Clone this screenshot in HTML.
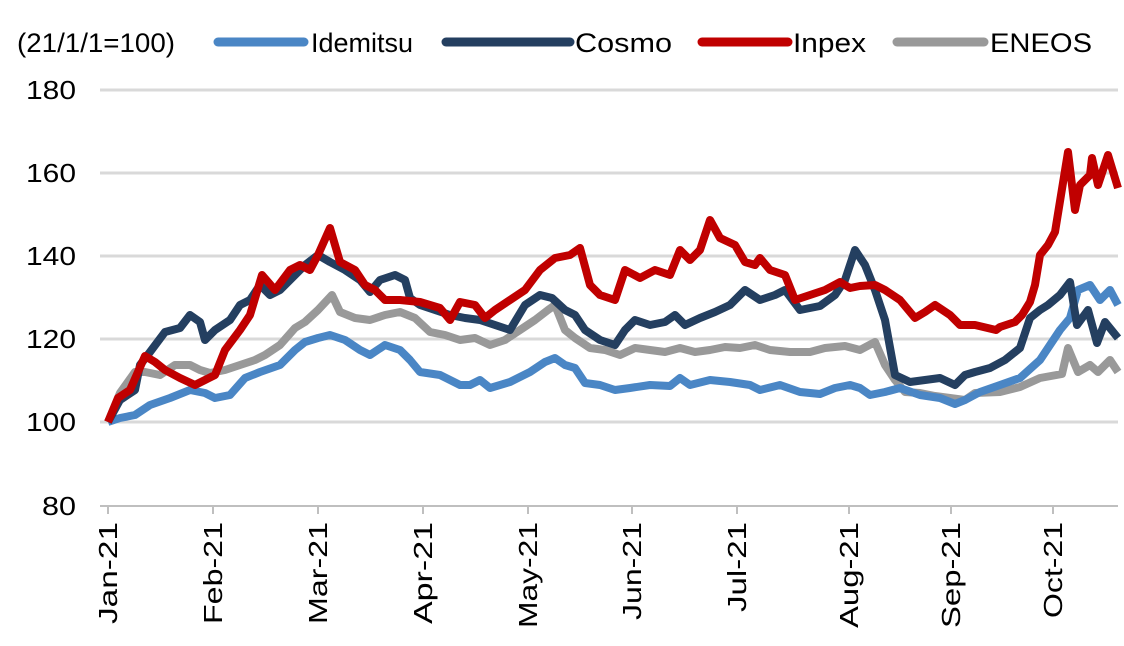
<!DOCTYPE html>
<html><head><meta charset="utf-8"><style>
html,body{margin:0;padding:0;background:#fff}
svg{display:block}
text{font-family:"Liberation Sans",Arial,sans-serif;fill:#000}
</style></head><body>
<svg width="1124" height="646" viewBox="0 0 1124 646">
<g stroke="#d9d9d9" stroke-width="3">
<line x1="100" y1="90" x2="1118" y2="90"/>
<line x1="100" y1="173" x2="1118" y2="173"/>
<line x1="100" y1="256" x2="1118" y2="256"/>
<line x1="100" y1="339" x2="1118" y2="339"/>
<line x1="100" y1="422" x2="1118" y2="422"/>
</g>
<line x1="100" y1="506" x2="1118" y2="506" stroke="#bfbfbf" stroke-width="2"/>
<g stroke="#bfbfbf" stroke-width="2">
<line x1="108" y1="506" x2="108" y2="514"/><line x1="213" y1="506" x2="213" y2="514"/><line x1="318" y1="506" x2="318" y2="514"/><line x1="423" y1="506" x2="423" y2="514"/><line x1="528" y1="506" x2="528" y2="514"/><line x1="632" y1="506" x2="632" y2="514"/><line x1="737" y1="506" x2="737" y2="514"/><line x1="849" y1="506" x2="849" y2="514"/><line x1="951" y1="506" x2="951" y2="514"/><line x1="1053" y1="506" x2="1053" y2="514"/>
</g>
<g font-size="26" text-anchor="end">
<text x="76" y="99" textLength="50" lengthAdjust="spacingAndGlyphs">180</text>
<text x="76" y="182" textLength="50" lengthAdjust="spacingAndGlyphs">160</text>
<text x="76" y="265" textLength="50" lengthAdjust="spacingAndGlyphs">140</text>
<text x="76" y="348" textLength="50" lengthAdjust="spacingAndGlyphs">120</text>
<text x="76" y="431" textLength="50" lengthAdjust="spacingAndGlyphs">100</text>
<text x="76" y="515" textLength="34" lengthAdjust="spacingAndGlyphs">80</text>
</g>
<g font-size="26" text-anchor="end">
<text transform="translate(117,522) rotate(-90)" textLength="102" lengthAdjust="spacingAndGlyphs">Jan-21</text>
<text transform="translate(222,522) rotate(-90)" textLength="102" lengthAdjust="spacingAndGlyphs">Feb-21</text>
<text transform="translate(327,522) rotate(-90)" textLength="102" lengthAdjust="spacingAndGlyphs">Mar-21</text>
<text transform="translate(432,522) rotate(-90)" textLength="102" lengthAdjust="spacingAndGlyphs">Apr-21</text>
<text transform="translate(537,522) rotate(-90)" textLength="106" lengthAdjust="spacingAndGlyphs">May-21</text>
<text transform="translate(641,522) rotate(-90)" textLength="98" lengthAdjust="spacingAndGlyphs">Jun-21</text>
<text transform="translate(746,522) rotate(-90)" textLength="90" lengthAdjust="spacingAndGlyphs">Jul-21</text>
<text transform="translate(858,522) rotate(-90)" textLength="106" lengthAdjust="spacingAndGlyphs">Aug-21</text>
<text transform="translate(960,522) rotate(-90)" textLength="106" lengthAdjust="spacingAndGlyphs">Sep-21</text>
<text transform="translate(1062,522) rotate(-90)" textLength="96" lengthAdjust="spacingAndGlyphs">Oct-21</text>
</g>
<g font-size="27">
<text x="17" y="52" textLength="158" lengthAdjust="spacingAndGlyphs">(21/1/1=100)</text>
<text x="311" y="52" textLength="102" lengthAdjust="spacingAndGlyphs">Idemitsu</text>
<text x="575" y="52" textLength="97" lengthAdjust="spacingAndGlyphs">Cosmo</text>
<text x="793" y="52" textLength="73" lengthAdjust="spacingAndGlyphs">Inpex</text>
<text x="990" y="52" textLength="102" lengthAdjust="spacingAndGlyphs">ENEOS</text>
</g>
<g stroke-width="9" stroke-linecap="round" fill="none">
<line x1="218" y1="42" x2="304" y2="42" stroke="#4a86c5"/>
<line x1="446" y1="42" x2="570" y2="42" stroke="#243f60"/>
<line x1="702" y1="42" x2="788" y2="42" stroke="#c00000"/>
<line x1="897" y1="42" x2="984" y2="42" stroke="#999999"/>
</g>
<g stroke-width="8" stroke-linejoin="round" fill="none">
<polyline stroke="#999999" points="108,422 120,393 135,372 145,372 160,375 175,365 190,365 200,370 210,373 225,370 240,365 255,360 265,355 280,345 295,328 305,322 318,310 332,295 340,312 355,318 370,320 385,315 400,312 415,318 430,332 445,335 460,340 475,338 490,345 505,340 520,330 535,320 548,310 555,305 565,330 575,338 590,348 605,350 620,355 635,348 650,350 665,352 680,348 695,352 710,350 725,347 740,348 755,345 770,350 790,352 810,352 825,348 845,346 860,350 875,342 885,365 895,380 905,392 920,393 935,396 950,398 965,400 975,393 1000,392 1020,387 1040,378 1062,374 1068,348 1078,372 1090,365 1098,372 1110,360 1118,372"/>
<polyline stroke="#4a86c5" points="108,422 120,418 135,415 150,405 170,398 190,390 205,393 215,398 230,395 245,378 260,372 280,365 295,350 305,342 318,338 330,335 345,340 360,350 370,355 385,345 400,350 410,360 420,372 440,375 460,385 470,385 480,380 490,388 510,382 530,372 545,362 555,358 565,365 575,368 585,383 600,385 615,390 630,388 650,385 670,386 680,378 690,385 710,380 730,382 750,385 760,390 780,385 800,392 820,394 835,388 850,385 860,388 870,395 885,392 900,388 920,395 940,398 955,404 965,400 980,392 1000,385 1020,378 1040,360 1050,345 1060,330 1070,318 1078,290 1090,285 1100,300 1110,290 1118,305"/>
<polyline stroke="#243f60" points="108,422 120,400 135,390 140,365 150,352 165,332 180,328 190,315 200,322 205,340 215,330 230,320 240,305 250,300 260,285 270,295 280,290 295,275 305,265 318,255 330,262 345,270 360,280 370,292 380,280 395,275 405,280 410,298 420,305 435,310 450,315 465,318 480,320 495,325 510,330 525,305 540,295 552,298 565,310 575,315 585,330 600,340 615,345 625,330 635,320 650,325 665,322 675,315 685,325 700,318 715,312 730,305 745,290 760,300 775,295 785,290 800,310 820,306 835,295 845,280 855,250 865,265 875,290 885,320 895,375 910,382 925,380 940,378 955,385 965,375 975,372 990,368 1005,360 1020,348 1030,318 1040,310 1048,305 1060,295 1070,282 1077,325 1088,310 1097,343 1105,322 1118,338"/>
<polyline stroke="#c00000" points="108,422 118,398 130,390 145,356 155,362 165,370 180,378 195,385 205,380 215,375 225,350 240,330 250,315 262,275 275,290 290,270 300,265 310,270 318,255 330,228 340,262 355,270 365,285 375,290 385,300 400,300 420,302 440,308 450,320 460,302 475,305 485,318 495,310 510,300 525,290 540,270 555,258 570,255 580,248 590,285 600,295 615,300 625,270 640,278 655,270 670,275 680,250 690,260 700,250 710,220 720,238 735,245 745,262 755,265 760,258 770,270 785,275 795,300 810,295 825,290 840,282 850,288 860,286 875,285 885,290 900,300 915,318 925,312 935,305 950,315 960,325 975,325 996,330 1000,327 1015,322 1022,315 1030,302 1035,285 1040,255 1048,245 1055,232 1068,152 1075,210 1080,185 1090,175 1092,158 1098,185 1108,155 1118,188"/>
</g>
</svg>
</body></html>
